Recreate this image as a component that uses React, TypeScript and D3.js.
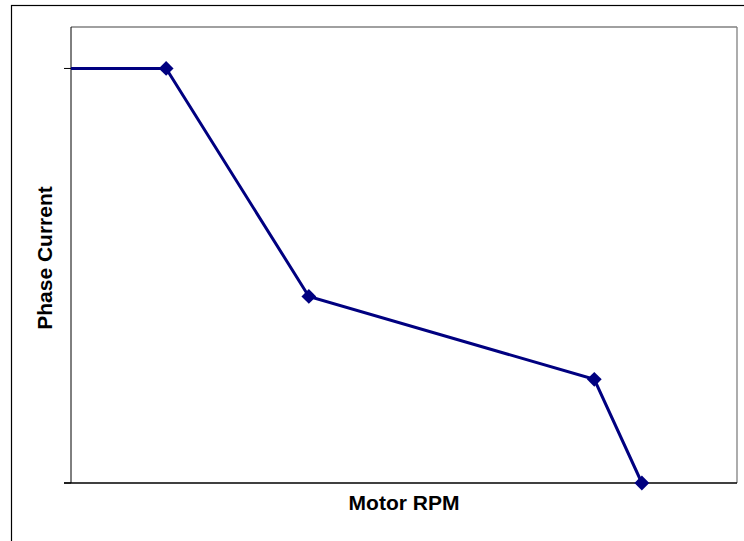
import React from "react";
import * as d3 from "d3";

const rpm = [0, 1500, 3750, 8250, 9000];
const current = [100, 100, 45, 25, 0];
const markerShown = [false, true, true, true, true];
const yTicks = [0, 100];
const xLabel = "Motor RPM";
const yLabel = "Phase Current";

const W = 744;
const H = 541;
const plot = { left: 71, top: 27, right: 737, bottom: 483 };

export default function App() {
  const x = d3.scaleLinear().domain([0, 10500]).range([plot.left, plot.right]);
  const y = d3.scaleLinear().domain([0, 110]).range([plot.bottom, plot.top]);
  const pts = rpm.map((r, i) => ({ r, c: current[i], m: markerShown[i] }));
  const line = d3
    .line<{ r: number; c: number }>()
    .x((d) => x(d.r))
    .y((d) => y(d.c));
  const diamond = d3.symbol().type(d3.symbolSquare).size(110)();
  const font = "'Liberation Sans', Arial, sans-serif";

  return (
    <svg
      width={W}
      height={H}
      style={{ position: "fixed", left: 0, top: 0, display: "block", background: "#fff" }}
    >
      <rect x={0} y={0} width={W} height={H} fill="#fff" />
      <rect x={11.5} y={5.5} width={W + 10} height={H + 10} fill="none" stroke="#000" strokeWidth={1.2} />
      {/* plot frame */}
      <line x1={plot.left} y1={plot.top} x2={plot.right} y2={plot.top} stroke="#808080" strokeWidth={1.3} />
      <line x1={plot.right} y1={plot.top} x2={plot.right} y2={plot.bottom} stroke="#808080" strokeWidth={1.3} />
      <line x1={plot.left} y1={plot.top} x2={plot.left} y2={plot.bottom} stroke="#000" strokeWidth={1} />
      <line x1={plot.left - 7} y1={plot.bottom} x2={plot.right} y2={plot.bottom} stroke="#000" strokeWidth={1.3} />
      {yTicks.map((t) => (
        <line key={t} x1={plot.left - 7} x2={plot.left} y1={y(t)} y2={y(t)} stroke="#000" strokeWidth={1} />
      ))}
      <path d={line(pts) || ""} fill="none" stroke="#000080" strokeWidth={3} />
      {pts
        .filter((p) => p.m)
        .map((p, i) => (
          <path
            key={i}
            d={diamond || ""}
            transform={`translate(${x(p.r)},${y(p.c)}) rotate(45)`}
            fill="#000080"
          />
        ))}
      <text
        x={(plot.left + plot.right) / 2}
        y={510}
        textAnchor="middle"
        fontFamily={font}
        fontWeight="bold"
        fontSize={21}
      >
        {xLabel}
      </text>
      <text
        transform={`translate(52,${(plot.top + plot.bottom) / 2 + 3}) rotate(-90)`}
        textAnchor="middle"
        fontFamily={font}
        fontWeight="bold"
        fontSize={21}
      >
        {yLabel}
      </text>
    </svg>
  );
}
